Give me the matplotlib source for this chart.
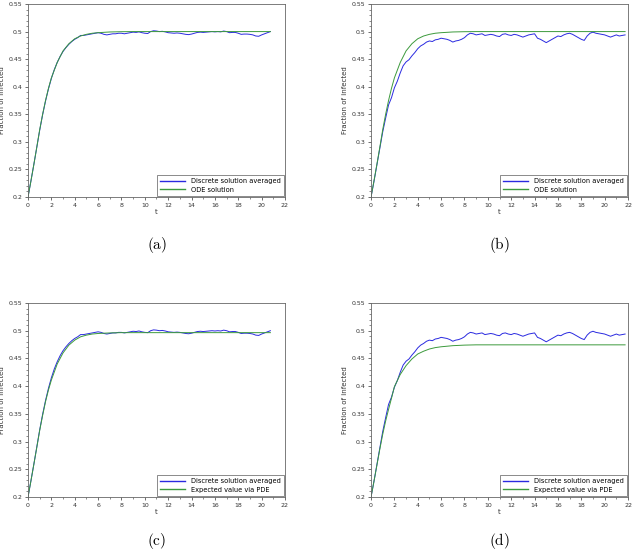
import numpy as np
import matplotlib
matplotlib.use("Agg")
import matplotlib.pyplot as plt

plt.rcParams["mathtext.fontset"] = "cm"

# ---------- data ----------
# discrete solution averaged, run 1 (panels a, c)
t_run1 = np.arange(0, 20.76, 0.25)
y_run1 = [0.200, 0.229, 0.259, 0.290, 0.321, 0.349, 0.374, 0.396, 0.415, 0.431,
          0.444, 0.455, 0.464, 0.471, 0.477, 0.482, 0.486, 0.489, 0.493, 0.493,
          0.494, 0.495, 0.496, 0.497, 0.498, 0.497, 0.495, 0.494, 0.495, 0.496,
          0.496, 0.497, 0.497, 0.496, 0.497, 0.498, 0.499, 0.4985, 0.4995, 0.498,
          0.497, 0.4965, 0.500, 0.5015, 0.501, 0.500, 0.5005, 0.4995, 0.498, 0.4975,
          0.497, 0.4975, 0.497, 0.496, 0.495, 0.4945, 0.4955, 0.497, 0.4985, 0.499,
          0.4985, 0.499, 0.4995, 0.500, 0.4995, 0.500, 0.4995, 0.501, 0.500, 0.498,
          0.4985, 0.4985, 0.497, 0.495, 0.4955, 0.4955, 0.495, 0.494, 0.492, 0.4915,
          0.494, 0.496, 0.498, 0.500]

# discrete solution averaged, run 2 (panels b, d)
t_run2 = np.arange(0, 21.76, 0.25)
y_run2 = [0.200, 0.228, 0.258, 0.288, 0.318, 0.343, 0.367, 0.380, 0.398, 0.410,
          0.425, 0.438, 0.445, 0.449, 0.456, 0.462, 0.469, 0.474, 0.477, 0.481,
          0.483, 0.482, 0.485, 0.486, 0.488, 0.487, 0.486, 0.484, 0.481, 0.483,
          0.484, 0.486, 0.489, 0.494, 0.497, 0.496, 0.494, 0.495, 0.496, 0.493,
          0.494, 0.495, 0.494, 0.492, 0.491, 0.495, 0.496, 0.494, 0.493, 0.495,
          0.494, 0.492, 0.490, 0.492, 0.494, 0.495, 0.496, 0.488, 0.486, 0.483,
          0.480, 0.483, 0.486, 0.489, 0.492, 0.491, 0.494, 0.496, 0.497, 0.495,
          0.492, 0.489, 0.486, 0.484, 0.492, 0.497, 0.499, 0.497, 0.496, 0.495,
          0.494, 0.492, 0.490, 0.492, 0.494, 0.492, 0.493, 0.494]

# ODE solution
t_ode = [0, 0.25, 0.5, 0.75, 1.0, 1.25, 1.5, 1.75, 2.0, 2.5, 3.0, 3.5, 4.0, 4.5,
         5.0, 5.5, 6.0, 7.0, 8.0, 9.0]
y_ode = [0.200, 0.229, 0.259, 0.290, 0.322, 0.350, 0.375, 0.397, 0.416, 0.444,
         0.465, 0.478, 0.487, 0.492, 0.495, 0.497, 0.498, 0.4993, 0.4998, 0.500]

# expected value via PDE (panel c)
t_pde_c = [0, 0.25, 0.5, 0.75, 1.0, 1.25, 1.5, 1.75, 2.0, 2.5, 3.0, 3.5, 4.0, 4.5,
           5.0, 5.5, 6.0, 7.0, 8.0]
y_pde_c = [0.200, 0.229, 0.259, 0.289, 0.320, 0.347, 0.372, 0.393, 0.411, 0.440,
           0.460, 0.474, 0.483, 0.489, 0.492, 0.494, 0.495, 0.496, 0.4965]

# expected value via PDE (panel d)
t_pde_d = [0, 0.25, 0.5, 0.75, 1.0, 1.25, 1.5, 1.75, 2.0, 2.5, 3.0, 3.5, 4.0, 4.5,
           5.0, 5.5, 6.0, 7.0, 8.0, 9.0]
y_pde_d = [0.200, 0.228, 0.257, 0.286, 0.313, 0.337, 0.358, 0.378, 0.399, 0.421,
           0.437, 0.449, 0.458, 0.463, 0.467, 0.4695, 0.471, 0.473, 0.474, 0.4745]

xticks = [0, 2, 4, 6, 8, 10, 12, 14, 16, 18, 20, 22]
yticks = [0.2, 0.25, 0.3, 0.35, 0.4, 0.45, 0.5, 0.55]
ytick_labels = ["0.2", "0.25", "0.3", "0.35", "0.4", "0.45", "0.5", "0.55"]

panels = [
    # (position, blue t, blue y, green t, green y, green end, label, caption)
    ([0.0441, 0.6418, 0.4047, 0.3509], t_run1, y_run1, t_ode, y_ode, 20.75,
     "ODE solution", "(a)", (0.247, 0.5545)),
    ([0.5843, 0.6418, 0.4047, 0.3509], t_run2, y_run2, t_ode, y_ode, 21.75,
     "ODE solution", "(b)", (0.787, 0.5545)),
    ([0.0441, 0.0964, 0.4047, 0.3527], t_run1, y_run1, t_pde_c, y_pde_c, 20.75,
     "Expected value via PDE", "(c)", (0.247, 0.016)),
    ([0.5843, 0.0964, 0.4047, 0.3527], t_run2, y_run2, t_pde_d, y_pde_d, 21.75,
     "Expected value via PDE", "(d)", (0.787, 0.016)),
]

fig = plt.figure(figsize=(6.35, 5.5), dpi=100)

for pos, tb, yb, tg, yg, tend, glabel, cap, cpos in panels:
    ax = fig.add_axes(pos)
    # extend the flat tail of the green curve to where the run ends
    tg = list(tg) + [tend]
    yg = list(yg) + [yg[-1]]
    ax.plot(tb, yb, color="#2a2ae0", lw=0.7, label="Discrete solution averaged")
    ax.plot(tg, yg, color="#3c9a3c", lw=0.7, label=glabel)

    ax.set_xlim(0, 22)
    ax.set_ylim(0.2, 0.55)
    ax.set_xticks(xticks)
    ax.set_xticklabels([str(v) for v in xticks])
    ax.set_yticks(yticks)
    ax.set_yticklabels(ytick_labels)
    ax.set_xticks(np.arange(1, 22, 2), minor=True)
    ax.set_yticks(np.arange(0.21, 0.55, 0.01), minor=True)
    ax.tick_params(which="major", direction="out", length=2.5, width=0.5,
                   labelsize=4.5, pad=1.5, colors="#333333")
    ax.tick_params(which="minor", direction="out", length=1.3, width=0.4,
                   colors="#333333")
    for s in ax.spines.values():
        s.set_color("#666666")
        s.set_linewidth(0.6)

    ax.set_xlabel("t", fontsize=5, labelpad=1, color="#333333")
    ax.set_ylabel("Fraction of infected", fontsize=5, labelpad=3, color="#333333")

    leg = ax.legend(loc="lower right", fontsize=4.8, frameon=True, fancybox=False,
                    borderpad=0.45, handlelength=3.7, handletextpad=0.9,
                    labelspacing=0.35, borderaxespad=0.2)
    leg.get_frame().set_edgecolor("#555555")
    leg.get_frame().set_linewidth(0.6)
    for h in leg.get_lines():
        h.set_linewidth(1.0)

    fig.text(cpos[0], cpos[1], r"$\mathrm{" + cap + "}$", fontsize=11,
             ha="center", va="center")

fig.savefig("out.png", dpi=100)
